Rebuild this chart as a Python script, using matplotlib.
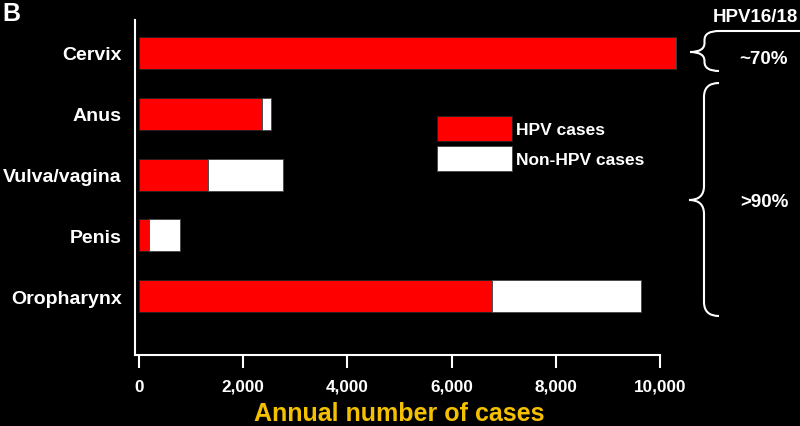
import numpy as np
import matplotlib; matplotlib.use("Agg")
import matplotlib.pyplot as plt
from matplotlib.path import Path
from matplotlib.patches import PathPatch

plt.rcParams['font.family'] = ['Liberation Sans', 'DejaVu Sans']
plt.rcParams['font.weight'] = 'bold'

sites = ["Cervix", "Anus", "Vulva/vagina", "Penis", "Oropharynx"]
hpv_cases = [10300, 2360, 1320, 190, 6780]
non_hpv_cases = [0, 170, 1440, 600, 2860]
xticks = [0, 2000, 4000, 6000, 8000, 10000]

W, H = 800, 427
fig = plt.figure(figsize=(W/100, H/100), dpi=100, facecolor="black")
# axes box in pixels: left spine x=135, bottom y=356, top y=21, right x=660
ax = fig.add_axes([135/W, 1-356/H, 525/W, 335/H], facecolor="black")

y = np.arange(len(sites))
bh = 0.527
b1 = ax.barh(y, hpv_cases, height=bh, color="#ff0000", edgecolor="#222222", lw=0.6,
             label="HPV cases", clip_on=False)
b2 = ax.barh(y, non_hpv_cases, left=hpv_cases, height=bh, color="white", edgecolor="#444444",
             lw=0.6, label="Non-HPV cases", clip_on=False)

ax.set_xlim(-77, 10000)
ax.set_ylim(4.97, -0.543)
ax.set_yticks(y, sites)
ax.set_xticks(xticks, [f"{v:,}" for v in xticks])
ax.tick_params(axis="y", length=0, pad=9.5, labelsize=14, colors="white")
ax.tick_params(axis="x", length=9, width=1.5, pad=8, labelsize=12.3, colors="white")
for s in ["top", "right"]:
    ax.spines[s].set_visible(False)
for s in ["left", "bottom"]:
    ax.spines[s].set_color("white"); ax.spines[s].set_linewidth(1.5)

fig.text(399/W, 1/H, "Annual number of cases", color="#f5c000", fontsize=18,
         ha="center", va="bottom")
fig.text(2/W, 1-2/H, "B", color="white", fontsize=18, ha="left", va="top")

ax.legend(handles=[b1, b2], loc="upper left", bbox_to_anchor=(437/W, 1-117/H),
          bbox_transform=fig.transFigure, frameon=False, fontsize=12.5, labelcolor="white",
          borderpad=0, borderaxespad=0, handlelength=4.3, handleheight=1.84,
          labelspacing=0.29, handletextpad=0.25)

def brace(x_tip, x_end, y_top, y_mid, y_bot, r, arm=None):
    xm = (x_tip + x_end) / 2
    pts = [(x_end, y_top), (xm, y_top), (xm, y_top + r), (xm, y_mid - r),
           (xm, y_mid), (x_tip, y_mid), (xm, y_mid), (xm, y_mid + r),
           (xm, y_bot - r), (xm, y_bot), (x_end, y_bot)]
    codes = [Path.MOVETO, Path.CURVE3, Path.CURVE3, Path.LINETO,
             Path.CURVE3, Path.CURVE3, Path.CURVE3, Path.CURVE3,
             Path.LINETO, Path.CURVE3, Path.CURVE3]
    if arm is not None:
        pts = [(arm, y_top)] + pts
        codes = [Path.MOVETO] + [Path.LINETO] + codes[1:]
    pts = [(px / W, 1 - py / H) for px, py in pts]
    fig.add_artist(PathPatch(Path(pts, codes), fc="none", ec="white", lw=1.5,
                             transform=fig.transFigure))

brace(690, 719, 32, 53, 72, 9, arm=800)
brace(689, 719, 84, 201, 317, 14)

fig.text(755/W, 1-17/H, "HPV16/18", color="white", fontsize=13.5, ha="center", va="center")
fig.text(763/W, 1-60/H, "~70%", color="white", fontsize=13.5, ha="center", va="center")
fig.text(764/W, 1-203/H, ">90%", color="white", fontsize=13.5, ha="center", va="center")

fig.savefig("out.png", dpi=100, facecolor="black")
